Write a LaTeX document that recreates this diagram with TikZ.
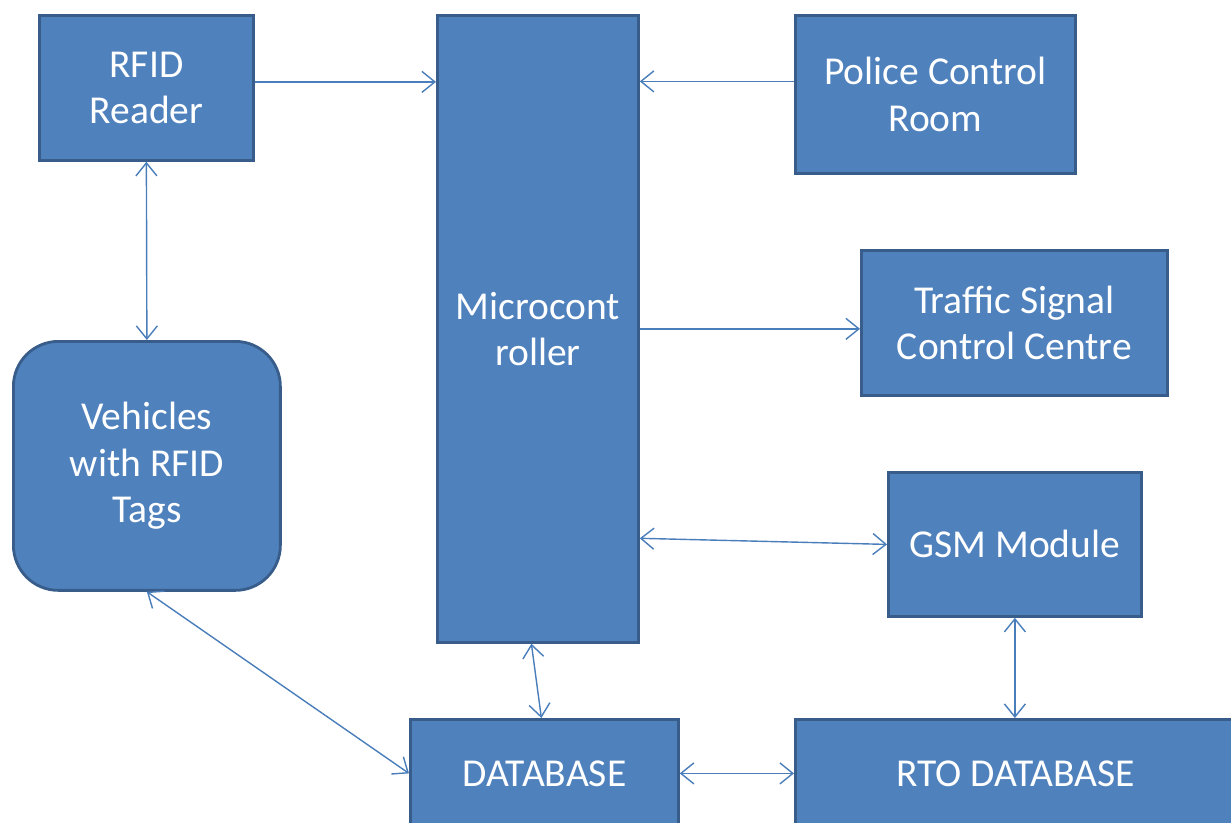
\documentclass[tikz,border=0pt]{standalone}
\usepackage{fontspec}
\setmainfont{Carlito}
\usepackage{tikz}
\usetikzlibrary{arrows.meta}
\definecolor{boxfill}{HTML}{4F81BD}
\definecolor{boxline}{HTML}{385D8A}
\definecolor{arrline}{HTML}{4A7EBB}

\begin{document}
\begin{tikzpicture}[x=0.02cm,y=-0.02cm,
  block/.style={draw=boxline,fill=boxfill,line width=1.6pt,text=white,align=center,
    font=\fontsize{22.5}{26.5}\selectfont,inner sep=0pt,anchor=north west},
  link/.style={draw=arrline,line width=0.8pt,>={Straight Barb[length=0.26cm,width=0.42cm]}}]
  \useasboundingbox (0,0) rectangle (1231,822);

  \node [block,minimum width=4.28cm,minimum height=2.9cm] (rfid) at (38,14) {RFID\\Reader};
  \node [block,minimum width=4.02cm,minimum height=12.54cm] (mc) at (436,14) {Microcont\\roller};
  \node [block,minimum width=5.6cm,minimum height=3.16cm] (pcr) at (794,14) {Police Control\\Room};
  \node [block,minimum width=6.12cm,minimum height=2.9cm] (tsc) at (860,249) {Traffic Signal\\Control Centre};
  \node [block,minimum width=5.06cm,minimum height=2.88cm] (gsm) at (887,471) {GSM Module};
  \node [block,rounded corners=0.9cm,minimum width=5.34cm,minimum height=4.98cm] (veh) at (12,340) {Vehicles\\with RFID\\Tags};
  \node [block,minimum width=5.36cm,minimum height=2.16cm] (db) at (409,718) {DATABASE};
  \node [block,minimum width=8.82cm,minimum height=2.16cm] (rto) at (794,718) {RTO DATABASE};

  \draw [link,->] ([yshift=0.12cm]rfid.east) -- ([yshift=0.12cm]rfid.east -| mc.west);
  \draw [link,->] ([yshift=0.26cm]pcr.west) -- ([yshift=0.26cm]pcr.west -| mc.east);
  \draw [link,->] (mc.east) -- (mc.east -| tsc.west);
  \draw [link,<->] ([yshift=-4.19cm]mc.east) -- (gsm.west);
  \draw [link,<->] (rfid.south) -- (veh.north);
  \draw [link,<->] (veh.south) -- (db.west);
  \draw [link,<->] ([xshift=-0.13cm]mc.south) -- ([xshift=-0.06cm]db.north);
  \draw [link,<->] (gsm.south) -- (gsm.south |- rto.north);
  \draw [link,<->] (db.east) -- (rto.west);
\end{tikzpicture}
\end{document}
